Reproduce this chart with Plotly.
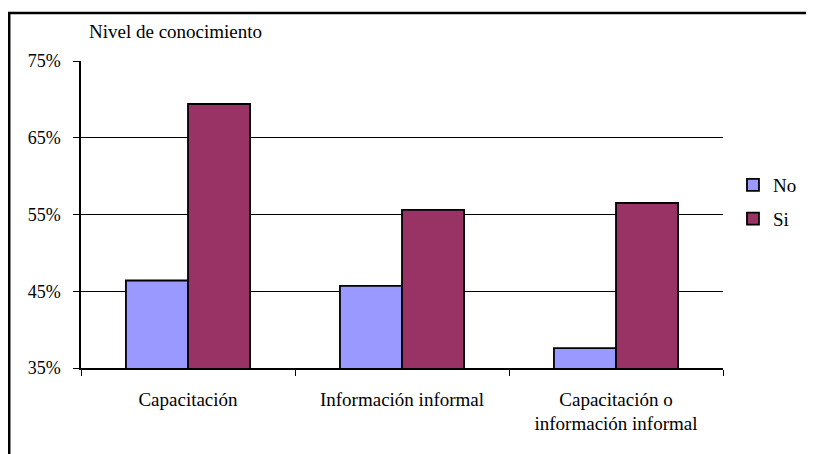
import plotly.graph_objects as go

categories = ["Capacitación", "Información informal", "Capacitación o<br>información informal"]
no_values = [0.464, 0.457, 0.376]
si_values = [0.694, 0.556, 0.565]
series_names = ["No", "Si"]
tick_vals = [0.35, 0.45, 0.55, 0.65, 0.75]
tick_text = ["35%", "45%", "55%", "65%", "75%"]

FONT = "Liberation Serif"

fig = go.Figure()
fig.add_trace(go.Bar(x=categories, y=no_values, name=series_names[0], legendgroup="a",
                     marker=dict(color="#9999FF", line=dict(color="black", width=1.8))))
fig.add_trace(go.Bar(x=categories, y=si_values, name=series_names[1], legendgroup="b",
                     marker=dict(color="#993366", line=dict(color="black", width=1.8))))

# page body has an 8px margin; compensate
OFF = 8
W, H = 814 - OFF, 454 - OFF
L, R, T, B = 81 - OFF, 725 - OFF, 61 - OFF, 368 - OFF
pw, ph = R - L, B - T

def px(x):
    return (x - OFF - L) / pw

def py(y):
    return (B - (y - OFF)) / ph

fig.update_layout(
    width=W, height=H,
    margin=dict(l=L, r=W - R, t=T, b=H - B, pad=0),
    paper_bgcolor="white", plot_bgcolor="white",
    font=dict(family=FONT, size=19, color="black"),
    barmode="group", bargap=0.42, bargroupgap=0,
    showlegend=True,
    legend=dict(x=px(735), y=py(166), xanchor="left", yanchor="top",
                font=dict(family=FONT, size=19, color="black"),
                itemwidth=30, tracegroupgap=6, traceorder="grouped",
                bgcolor="rgba(0,0,0,0)"),
    xaxis=dict(showline=True, linecolor="black", linewidth=1.5,
               ticks="outside", ticklen=6, tickwidth=1.2, tickcolor="black",
               tickson="boundaries", showgrid=False, ticklabelstandoff=13,
               tickfont=dict(family=FONT, size=19, color="black")),
    yaxis=dict(range=[0.35, 0.75], tickvals=tick_vals, ticktext=tick_text,
               showline=True, linecolor="black", linewidth=1.5,
               ticks="outside", ticklen=6, tickwidth=1.2, tickcolor="black",
               showgrid=True, gridcolor="black", gridwidth=1.2, zeroline=False,
               ticklabelstandoff=9,
               tickfont=dict(family=FONT, size=18, color="black")),
    shapes=[dict(type="rect", xref="paper", yref="paper",
                 x0=px(9), x1=px(830), y0=py(470), y1=py(13),
                 line=dict(color="black", width=2.5), fillcolor="rgba(0,0,0,0)", layer="above")],
    annotations=[dict(text="Nivel de conocimiento", xref="paper", yref="paper",
                      x=px(87), y=py(32), xanchor="left", yanchor="middle",
                      showarrow=False, font=dict(family=FONT, size=19, color="black"))],
)

fig.write_html("out.html")
